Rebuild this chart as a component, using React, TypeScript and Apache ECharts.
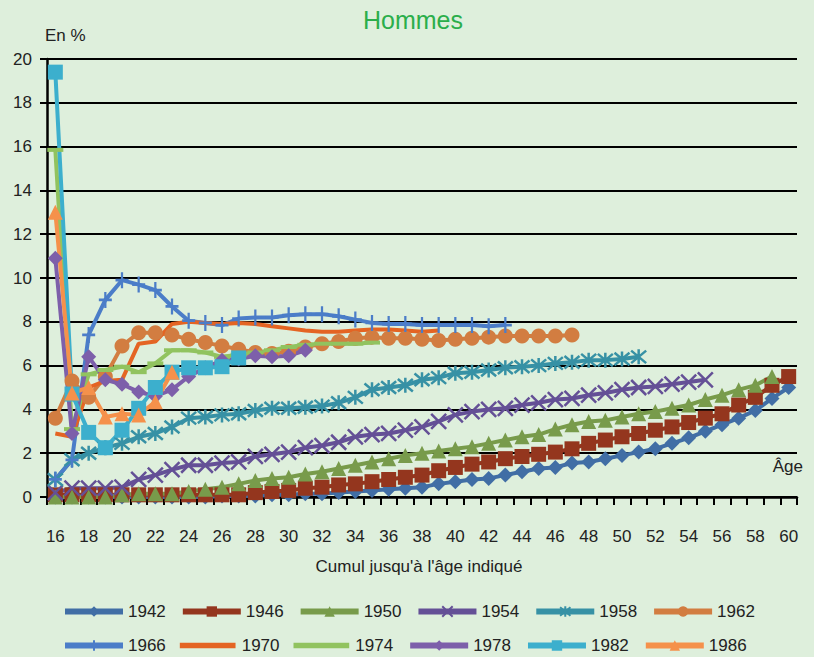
import React, { useEffect, useRef } from "react";
import * as echarts from "echarts";

const ages = ["16","17","18","19","20","21","22","23","24","25","26","27","28","29","30","31","32","33","34","35","36","37","38","39","40","41","42","43","44","45","46","47","48","49","50","51","52","53","54","55","56","57","58","59","60"];

const s1942 = [0,0,0,0,0,0,0,0,0,0,0.05,0.05,0.05,0.1,0.1,0.15,0.15,0.2,0.25,0.3,0.35,0.4,0.45,0.6,0.7,0.8,0.85,1.0,1.15,1.3,1.35,1.55,1.6,1.75,1.9,2.05,2.2,2.45,2.7,3.0,3.3,3.6,3.95,4.5,5.0];
const s1946 = [0.1,0.1,0.1,0.1,0.1,0.1,0.1,0.1,0.1,0.1,0.1,0.1,0.2,0.25,0.3,0.4,0.45,0.55,0.6,0.7,0.8,0.9,1.0,1.2,1.35,1.5,1.6,1.75,1.85,1.95,2.05,2.2,2.45,2.6,2.75,2.9,3.05,3.2,3.4,3.6,3.8,4.2,4.55,5.1,5.5];
const s1950 = [0,0,0,0,0.1,0.15,0.15,0.15,0.25,0.35,0.45,0.6,0.75,0.85,0.9,1.05,1.15,1.3,1.45,1.6,1.75,1.9,2.0,2.1,2.2,2.3,2.45,2.6,2.75,2.85,3.1,3.3,3.45,3.5,3.65,3.8,3.9,4.05,4.2,4.45,4.65,4.9,5.1,5.5];
const s1954 = [0.2,0.4,0.4,0.4,0.45,0.8,1.0,1.25,1.45,1.45,1.55,1.6,1.85,1.95,2.05,2.25,2.35,2.5,2.75,2.85,2.9,3.05,3.2,3.45,3.75,3.9,4.0,4.05,4.2,4.3,4.45,4.5,4.65,4.75,4.9,5.0,5.05,5.15,5.25,5.35];
const s1958 = [0.8,1.7,2.0,2.25,2.45,2.75,2.9,3.2,3.6,3.65,3.75,3.8,3.95,4.05,4.05,4.1,4.15,4.3,4.55,4.9,5.0,5.1,5.35,5.45,5.65,5.7,5.8,5.9,5.95,6.0,6.1,6.15,6.25,6.25,6.3,6.4];
const s1962 = [3.6,5.3,4.55,5.5,6.9,7.5,7.5,7.4,7.2,7.05,6.9,6.75,6.6,6.55,6.65,6.85,7.0,7.1,7.25,7.3,7.25,7.25,7.2,7.15,7.2,7.25,7.3,7.35,7.35,7.35,7.35,7.4];
const s1966 = [0.8,1.7,7.4,9.0,9.9,9.7,9.45,8.7,8.05,7.95,7.85,8.15,8.2,8.2,8.3,8.35,8.35,8.25,8.1,7.95,7.9,7.9,7.85,7.85,7.85,7.85,7.8,7.85];
const s1970 = [2.9,2.75,5.0,5.3,5.35,7.0,7.1,7.9,8.0,7.95,7.9,7.95,7.9,7.8,7.7,7.6,7.55,7.55,7.6,7.65,7.65,7.6,7.55,7.6];
const s1974 = [15.85,3.1,5.6,5.8,5.95,5.7,6.1,6.7,6.7,6.6,6.4,6.5,6.6,6.7,6.85,6.95,7.0,7.0,7.0,7.05];
const s1978 = [10.9,2.9,6.4,5.35,5.15,4.8,4.6,4.9,5.5,5.9,6.25,6.3,6.45,6.4,6.45,6.7];
const s1982 = [19.4,4.7,2.95,2.25,3.05,4.05,5.0,5.7,5.9,5.9,5.95,6.35];
const s1986 = [13.0,4.75,5.0,3.65,3.8,3.75,4.35,5.7];

const years = ["1942","1946","1950","1954","1958","1962","1966","1970","1974","1978","1982","1986"];
const seriesData = [s1942,s1946,s1950,s1954,s1958,s1962,s1966,s1970,s1974,s1978,s1982,s1986];
const colors = ["#416EA5","#94361E","#789B4B","#645096","#3791A5","#D27D41","#4B7DC8","#E46423","#91C35F","#7D5FAA","#3CAFCD","#F5914B"];

const X_PATH = "path://M0,0L10,10M10,0L0,10";
const STAR_PATH = "path://M0,0L10,10M10,0L0,10M5,-1L5,11";
const PLUS_PATH = "path://M5,0L5,10M0,5L10,5";
const BAR_ICON = "path://M0,0L0,0M0,4L60,4L60,10L0,10ZM0,14L0,14";
const symbols = ["diamond","rect","triangle",X_PATH,STAR_PATH,"circle",PLUS_PATH,"none","rect","diamond","rect","triangle"];
const symbolSizes: any[] = [15,15,15,15,15,15,[13,16],0,[16,4],15,15,15];

const FONT = "'Liberation Sans', Arial, sans-serif";
const TXT = "#222222";

export default function App() {
  const ref = useRef<HTMLDivElement>(null);
  useEffect(() => {
    const chart = echarts.init(ref.current!, null, { renderer: "svg" });
    const series = years.map((y, i) => {
      const isPath = typeof symbols[i] === "string" && (symbols[i] as string).startsWith("path://");
      return {
        name: y,
        type: "line",
        data: seriesData[i],
        symbol: symbols[i],
        symbolSize: symbolSizes[i],
        showSymbol: symbols[i] !== "none",
        showAllSymbol: true,
        lineStyle: { width: 4, color: colors[i] },
        itemStyle: {
          color: colors[i],
          borderColor: colors[i],
          borderWidth: isPath ? 2.5 : 0,
        },
        emphasis: { disabled: true },
        animation: false,
      };
    });
    const legendItems = years.map((y, i) =>
      i === 7 || i === 8 ? { name: y, icon: BAR_ICON } : { name: y }
    );
    const legendBase = {
      left: 57,
      itemWidth: 58,
      itemHeight: 13,
      itemGap: 14,
      lineStyle: { width: 6 },
      textStyle: { fontSize: 17, color: TXT, fontFamily: FONT },
      selectedMode: false,
    };
    chart.setOption({
      animation: false,
      backgroundColor: "#DEEFDC",
      grid: { left: 47, right: 17, top: 59, bottom: 160, containLabel: false },
      xAxis: {
        type: "category",
        data: ages,
        boundaryGap: true,
        axisLine: { show: true, lineStyle: { color: "#000", width: 2.5 } },
        axisTick: { show: true, interval: 0, length: 8, lineStyle: { color: "#000", width: 2 } },
        axisLabel: { interval: 1, fontSize: 17, color: TXT, fontFamily: FONT, margin: 31 },
        splitLine: { show: false },
      },
      yAxis: {
        type: "value",
        min: 0,
        max: 20,
        interval: 2,
        axisLine: { show: true, lineStyle: { color: "#000", width: 2.5 } },
        axisTick: { show: true, length: 7, lineStyle: { color: "#000", width: 2 } },
        axisLabel: { fontSize: 17, color: TXT, fontFamily: FONT, margin: 15 },
        splitLine: { show: true, lineStyle: { color: "#000", width: 2 } },
      },
      legend: [
        { ...legendBase, top: 598, data: legendItems.slice(0, 6) },
        { ...legendBase, top: 632, data: legendItems.slice(6) },
      ],
      graphic: [
        { type: "text", x: 413, y: 20, style: { text: "Hommes", fontSize: 25, fill: "#2BAE4B", fontFamily: FONT, align: "center", verticalAlign: "middle" } },
        { type: "text", x: 45, y: 27, style: { text: "En %", fontSize: 17, fill: TXT, fontFamily: FONT } },
        { type: "text", x: 803, y: 466, style: { text: "Âge", fontSize: 17, fill: TXT, fontFamily: FONT, align: "right", verticalAlign: "middle" } },
        { type: "text", x: 419, y: 566, style: { text: "Cumul jusqu'à l'âge indiqué", fontSize: 17, fill: TXT, fontFamily: FONT, align: "center", verticalAlign: "middle" } },
      ],
      series,
    });
    return () => chart.dispose();
  }, []);
  return (
    <div
      ref={ref}
      style={{ width: 814, height: 657, position: "absolute", left: 0, top: 0, background: "#DEEFDC" }}
    />
  );
}
